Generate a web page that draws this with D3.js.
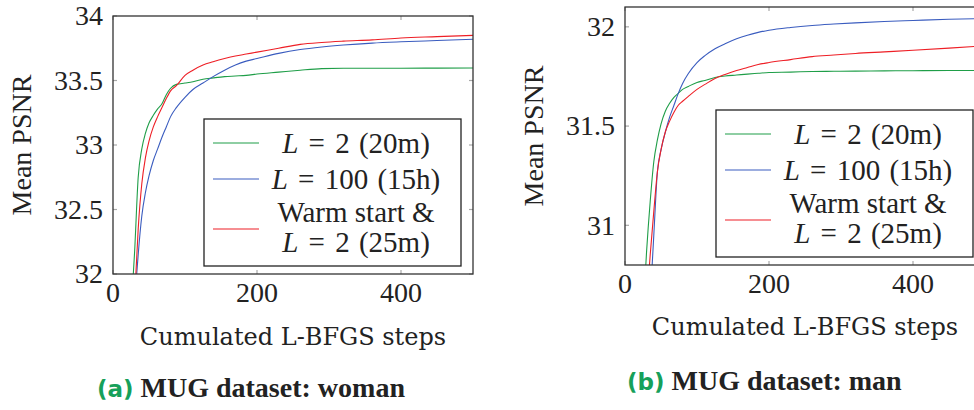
<!DOCTYPE html>
<html><head><meta charset="utf-8">
<script src="https://cdn.jsdelivr.net/npm/d3@7"></script>
<style>
html,body{margin:0;padding:0;background:#fff;}
svg{display:block;}
.ser{font-family:"Liberation Serif","Times New Roman",serif;}
.dser{font-family:"DejaVu Serif",serif;}
.sans{font-family:"DejaVu Sans",sans-serif;}
</style></head>
<body>
<svg id="c" width="974" height="410"></svg>
<script>
// ---------- data ----------
const steps = [25, 30, 35, 40, 45, 50, 56, 62, 68, 74, 80, 88, 100, 111, 125, 139, 155, 170, 185, 200, 230, 260, 290, 320, 360, 400, 450, 500];

// (a) MUG dataset: woman
const womanL2   = [31.70, 32.17, 32.75, 32.97, 33.09, 33.17, 33.23, 33.28, 33.32, 33.39, 33.44, 33.47, 33.48, 33.49, 33.51, 33.52, 33.53, 33.535, 33.54, 33.55, 33.565, 33.58, 33.592, 33.595, 33.595, 33.595, 33.596, 33.597];
const womanL100 = [31.20, 31.75, 32.15, 32.45, 32.63, 32.76, 32.88, 32.97, 33.06, 33.14, 33.22, 33.29, 33.37, 33.43, 33.48, 33.53, 33.58, 33.62, 33.65, 33.67, 33.71, 33.74, 33.76, 33.775, 33.79, 33.80, 33.81, 33.82];
const womanWarm = [31.30, 31.80, 32.35, 32.70, 32.90, 33.03, 33.14, 33.22, 33.29, 33.36, 33.42, 33.46, 33.54, 33.58, 33.62, 33.645, 33.67, 33.69, 33.705, 33.72, 33.75, 33.78, 33.795, 33.805, 33.815, 33.83, 33.84, 33.85];

// (b) MUG dataset: man
const manL2   = [30.55, 30.87, 31.12, 31.32, 31.43, 31.51, 31.575, 31.615, 31.645, 31.665, 31.685, 31.70, 31.72, 31.73, 31.745, 31.752, 31.757, 31.762, 31.766, 31.77, 31.772, 31.775, 31.776, 31.777, 31.778, 31.779, 31.78, 31.78];
const manL100 = [30.00, 30.30, 30.62, 30.95, 31.27, 31.38, 31.47, 31.545, 31.605, 31.665, 31.715, 31.765, 31.82, 31.855, 31.89, 31.915, 31.94, 31.958, 31.972, 31.983, 31.997, 32.007, 32.014, 32.02, 32.027, 32.032, 32.038, 32.042];
const manWarm = [30.30, 30.60, 30.85, 31.07, 31.27, 31.38, 31.47, 31.525, 31.57, 31.605, 31.625, 31.65, 31.685, 31.71, 31.74, 31.76, 31.78, 31.795, 31.81, 31.82, 31.835, 31.85, 31.858, 31.866, 31.874, 31.882, 31.893, 31.905];

const xTicks = [0, 200, 400];
const womanYTicks = [32, 32.5, 33, 33.5, 34];
const manYTicks = [31, 31.5, 32];
const womanYLabels = ["32", "32.5", "33", "33.5", "34"];
const manYLabels = ["31", "31.5", "32"];

const seriesColors = ["#1f9e48", "#3a5cbf", "#ee1f26"];
const xTitle = "Cumulated L-BFGS steps";
const yTitle = "Mean PSNR";

// ---------- drawing ----------
const svg = d3.select("#c");
const ink = "#222";

const panels = [
  {left:113, top:16, w:360, h:258, ydom:[32,34], yticks:womanYTicks, ylabels:womanYLabels,
   series:[womanL2, womanL100, womanWarm], cap:"(a)", capText:"MUG dataset: woman", capX:97, capY:397, titleY:345},
  {left:625, top:7, w:360, h:258, ydom:[30.8,32.1], yticks:manYTicks, ylabels:manYLabels,
   series:[manL2, manL100, manWarm], cap:"(b)", capText:"MUG dataset: man", capX:627, capY:390, titleY:335}
];

panels.forEach((p, pi) => {
  const x = d3.scaleLinear().domain([0, 500]).range([p.left, p.left + p.w]);
  const y = d3.scaleLinear().domain(p.ydom).range([p.top + p.h, p.top]);
  const g = svg.append("g");

  const clipId = "clip" + pi;
  svg.append("clipPath").attr("id", clipId).append("rect")
    .attr("x", p.left).attr("y", p.top).attr("width", p.w).attr("height", p.h);

  // ticks (inside, both sides) in grey
  const tl = 4;
  const tickG = g.append("g").attr("stroke", "#a8a8a8").attr("stroke-width", 1.2);
  p.yticks.forEach(v => {
    tickG.append("line").attr("x1", p.left).attr("x2", p.left + tl).attr("y1", y(v)).attr("y2", y(v));
    tickG.append("line").attr("x1", p.left + p.w).attr("x2", p.left + p.w - tl).attr("y1", y(v)).attr("y2", y(v));
  });
  xTicks.forEach(v => {
    tickG.append("line").attr("x1", x(v)).attr("x2", x(v)).attr("y1", p.top).attr("y2", p.top + tl);
    tickG.append("line").attr("x1", x(v)).attr("x2", x(v)).attr("y1", p.top + p.h).attr("y2", p.top + p.h - tl);
  });

  // lines
  const line = d3.line().x((d, i) => x(steps[i])).y(d => y(d)).curve(d3.curveMonotoneX);
  const lg = g.append("g").attr("clip-path", `url(#${clipId})`);
  p.series.forEach((s, si) => {
    lg.append("path").datum(s).attr("d", line).attr("fill", "none")
      .attr("stroke", seriesColors[si]).attr("stroke-width", 1.1);
  });

  // frame
  g.append("rect").attr("x", p.left).attr("y", p.top).attr("width", p.w).attr("height", p.h)
    .attr("fill", "none").attr("stroke", "#333").attr("stroke-width", 1.3);

  // y tick labels
  p.yticks.forEach((v, i) => {
    g.append("text").attr("class", "ser").attr("x", p.left - 10).attr("y", y(v)).attr("dy", "0.33em")
      .attr("text-anchor", "end").attr("font-size", 28).attr("fill", ink)
      .text(p.ylabels[i]);
  });
  // x tick labels
  xTicks.forEach(v => {
    g.append("text").attr("class", "ser").attr("x", x(v)).attr("y", p.top + p.h + 28)
      .attr("text-anchor", "middle").attr("font-size", 28).attr("fill", ink)
      .text(String(v));
  });

  // y title
  g.append("text").attr("class", "ser").attr("transform", `translate(${p.left - 91},${p.top + p.h / 2}) rotate(-90)`)
    .attr("dy", "0.33em").attr("text-anchor", "middle").attr("font-size", 28)
    .attr("fill", ink).text(yTitle);

  // x title
  g.append("text").attr("class", "dser").attr("x", p.left + p.w / 2).attr("y", p.titleY)
    .attr("text-anchor", "middle").attr("font-size", 24)
    .attr("fill", ink).text(xTitle);

  // legend
  const lx = p.left + 91, ly = p.top + 103;
  const leg = g.append("g");
  leg.append("rect").attr("x", lx).attr("y", ly).attr("width", 257).attr("height", 147)
    .attr("fill", "#fff").attr("stroke", "#222").attr("stroke-width", 1.3);
  const rows = [
    {lineY: 24, texts: [{y: 24, t: ["L", "2 (20m)"]}]},
    {lineY: 60, texts: [{y: 60, t: ["L", "100 (15h)"]}]},
    {lineY: 110, texts: [{y: 93, t: [null, "Warm start &"]}, {y: 123, t: ["L", "2 (25m)"]}]}
  ];
  rows.forEach((r, ri) => {
    leg.append("line").attr("x1", lx + 9).attr("x2", lx + 55).attr("y1", ly + r.lineY).attr("y2", ly + r.lineY)
      .attr("stroke", seriesColors[ri]).attr("stroke-width", 1.1);
    r.texts.forEach(tt => {
      const t = leg.append("text").attr("class", "ser").attr("x", lx + 152).attr("y", ly + tt.y).attr("dy", "0.33em")
        .attr("text-anchor", "middle").attr("font-size", 29).attr("fill", ink);
      if (tt.t[0]) {
        t.append("tspan").attr("font-style", "italic").text(tt.t[0]);
        t.append("tspan").attr("word-spacing", "3px").text(" = ");
        t.append("tspan").attr("word-spacing", "2px").text(tt.t[1]);
      } else {
        t.append("tspan").text(tt.t[1]);
      }
    });
  });

  // caption
  const cap = g.append("text").attr("x", p.capX).attr("y", p.capY)
    .attr("font-weight", "bold").attr("fill", ink);
  cap.append("tspan").attr("class", "sans").attr("fill", "#16a05a").attr("font-size", 23).text(p.cap);
  cap.append("tspan").attr("class", "ser").attr("font-size", 28).text(" " + p.capText);
});
</script>
</body></html>
